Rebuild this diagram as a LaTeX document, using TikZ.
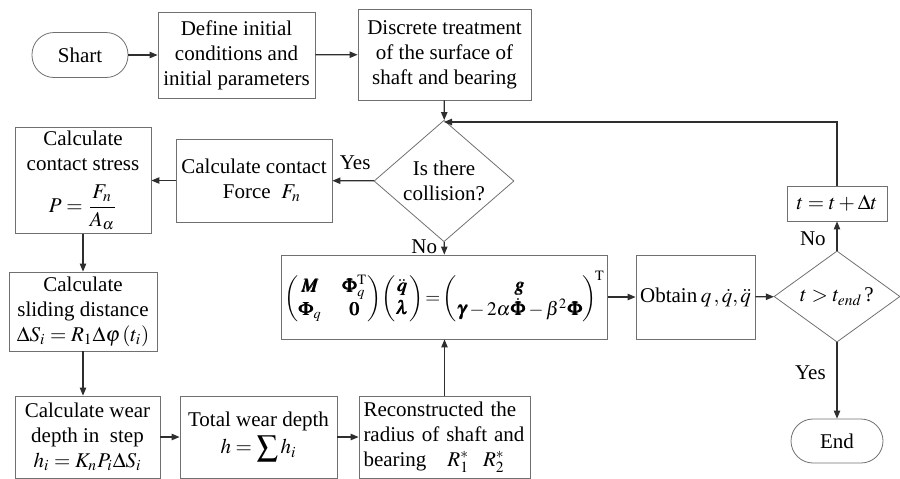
\documentclass[tikz,border=0pt]{standalone}
\usepackage{amsmath}
\usepackage{mathptmx}
\usepackage{bm}
\usepackage[no-math]{fontspec}
\setmainfont{Liberation Serif}
\usepackage{tikz}
\usetikzlibrary{arrows.meta,shapes.geometric}
\definecolor{Edge}{HTML}{707070}
\definecolor{Wire}{HTML}{2E2E2E}
\tikzset{box/.style={draw=Edge,thin,align=center,inner sep=1.5pt,font=\fontsize{10.5}{12.5}\selectfont},term/.style={box,rounded corners=11pt},decision/.style={diamond,draw=Edge,thin,align=center,inner sep=0pt,font=\fontsize{10.5}{12.5}\selectfont},flow/.style={-{Triangle[length=4pt,width=3.2pt]},draw=Wire,semithick},tag/.style={font=\fontsize{10.5}{12.5}\selectfont}}

\begin{document}
\begin{tikzpicture}[x=.5pt,y=-.5pt]
  \clip (0,0) rectangle (900,478);
  \node[term,minimum width=48pt,minimum height=22.5pt] (start) at (80,55) {Shart};
  \node[box,minimum width=78.5pt,minimum height=43pt] (init) at (236.5,55) {Define initial\\conditions and\\initial parameters};
  \node[box,minimum width=86.5pt,minimum height=45.5pt] (discr) at (444.5,54.5) {Discrete treatment\\of the surface of\\shaft and bearing};
  \node[decision,minimum width=70pt,minimum height=41.5pt] (coll) at (444,181) {Is there\\collision?};
  \node[box,minimum width=78pt,minimum height=41.5pt] (force) at (254,180.5) {Calculate contact\\\ \ \ Force\ \ $F_n$};
  \node[box,minimum width=68pt,minimum height=52.5pt] (stress) at (83,180.5) {Calculate\\contact stress\\[6pt]$P=\dfrac{F_n}{A_\alpha}$};
  \node[box,minimum width=74pt,minimum height=39.5pt] (slide) at (83,311.5) {Calculate\\sliding distance\\$\Delta S_i=R_1\Delta\varphi\left(t_i\right)$};
  \node[box,minimum width=72.5pt,minimum height=41pt] (wstep) at (87.5,437) {Calculate wear\\depth in\ \ step\\$h_i=K_nP_i\Delta S_i$};
  \node[box,minimum width=78.5pt,minimum height=41pt] (total) at (258.5,437) {Total wear depth\\[1pt]$\displaystyle h=\sum h_i$};
  \node[box,minimum width=85.5pt,minimum height=41pt,text width=81pt,align=left] (recon) at (444.5,437) {Reconstructed the\\radius of shaft and\\bearing\ \ \ $R_1^*\ \ R_2^*$};
  \node[box,minimum width=157.5pt,minimum height=42pt,font=\fontsize{9.6}{11.5}\selectfont] (eq) at (444.5,297) {$\begin{pmatrix}\bm{M}&\bm{\Phi}_q^{\mathrm{T}}\\\bm{\Phi}_q&\bm{0}\end{pmatrix}\!\begin{pmatrix}\ddot{\bm{q}}\\\bm{\lambda}\end{pmatrix}\!=\!\begin{pmatrix}\bm{g}\\\bm{\gamma}-2\alpha\dot{\bm{\Phi}}-\beta^2\bm{\Phi}\end{pmatrix}^{\!\mathrm{T}}$};
  \node[box,minimum width=59.5pt,minimum height=42pt,inner xsep=0pt] (obtain) at (695.5,297) {Obtain\,$q\,{,}\,\dot{q}{,}\,\ddot{q}$};
  \node[decision,minimum width=63pt,minimum height=37.5pt] (tcheck) at (837,296.5) {$t>t_{end}\,$?};
  \node[box,minimum width=50pt,minimum height=17.5pt] (tinc) at (837,203.5) {$t=t+\Delta t$};
  \node[term,minimum width=46pt,minimum height=22pt] (end) at (837,441) {End};
  \coordinate (back) at (444,122);

  \draw[flow] (start) -- (init);
  \draw[flow] (init) -- (discr);
  \draw[flow] (discr) -- (coll);
  \draw[flow] (coll) -- node[tag,above,pos=.45,yshift=2pt] {Yes} (force);
  \draw[flow] (force) -- (stress);
  \draw[flow] (stress) -- (slide);
  \draw[flow] (slide) -- (wstep.north -| slide);
  \draw[flow] (wstep) -- (total);
  \draw[flow] (total) -- (recon);
  \draw[flow] (recon) -- (eq);
  \draw[flow] (coll) -- node[tag,left,pos=.4] {No} (eq);
  \draw[flow] (eq) -- (obtain);
  \draw[flow] (obtain) -- (tcheck);
  \draw[flow] (tcheck) -- node[tag,left,pos=.4,xshift=-2pt] {No} (tinc);
  \draw[flow] (tcheck) -- node[tag,left,pos=.4,xshift=-2pt] {Yes} (end);
  \draw[flow] (tinc.north) |- (back);
\end{tikzpicture}
\end{document}
